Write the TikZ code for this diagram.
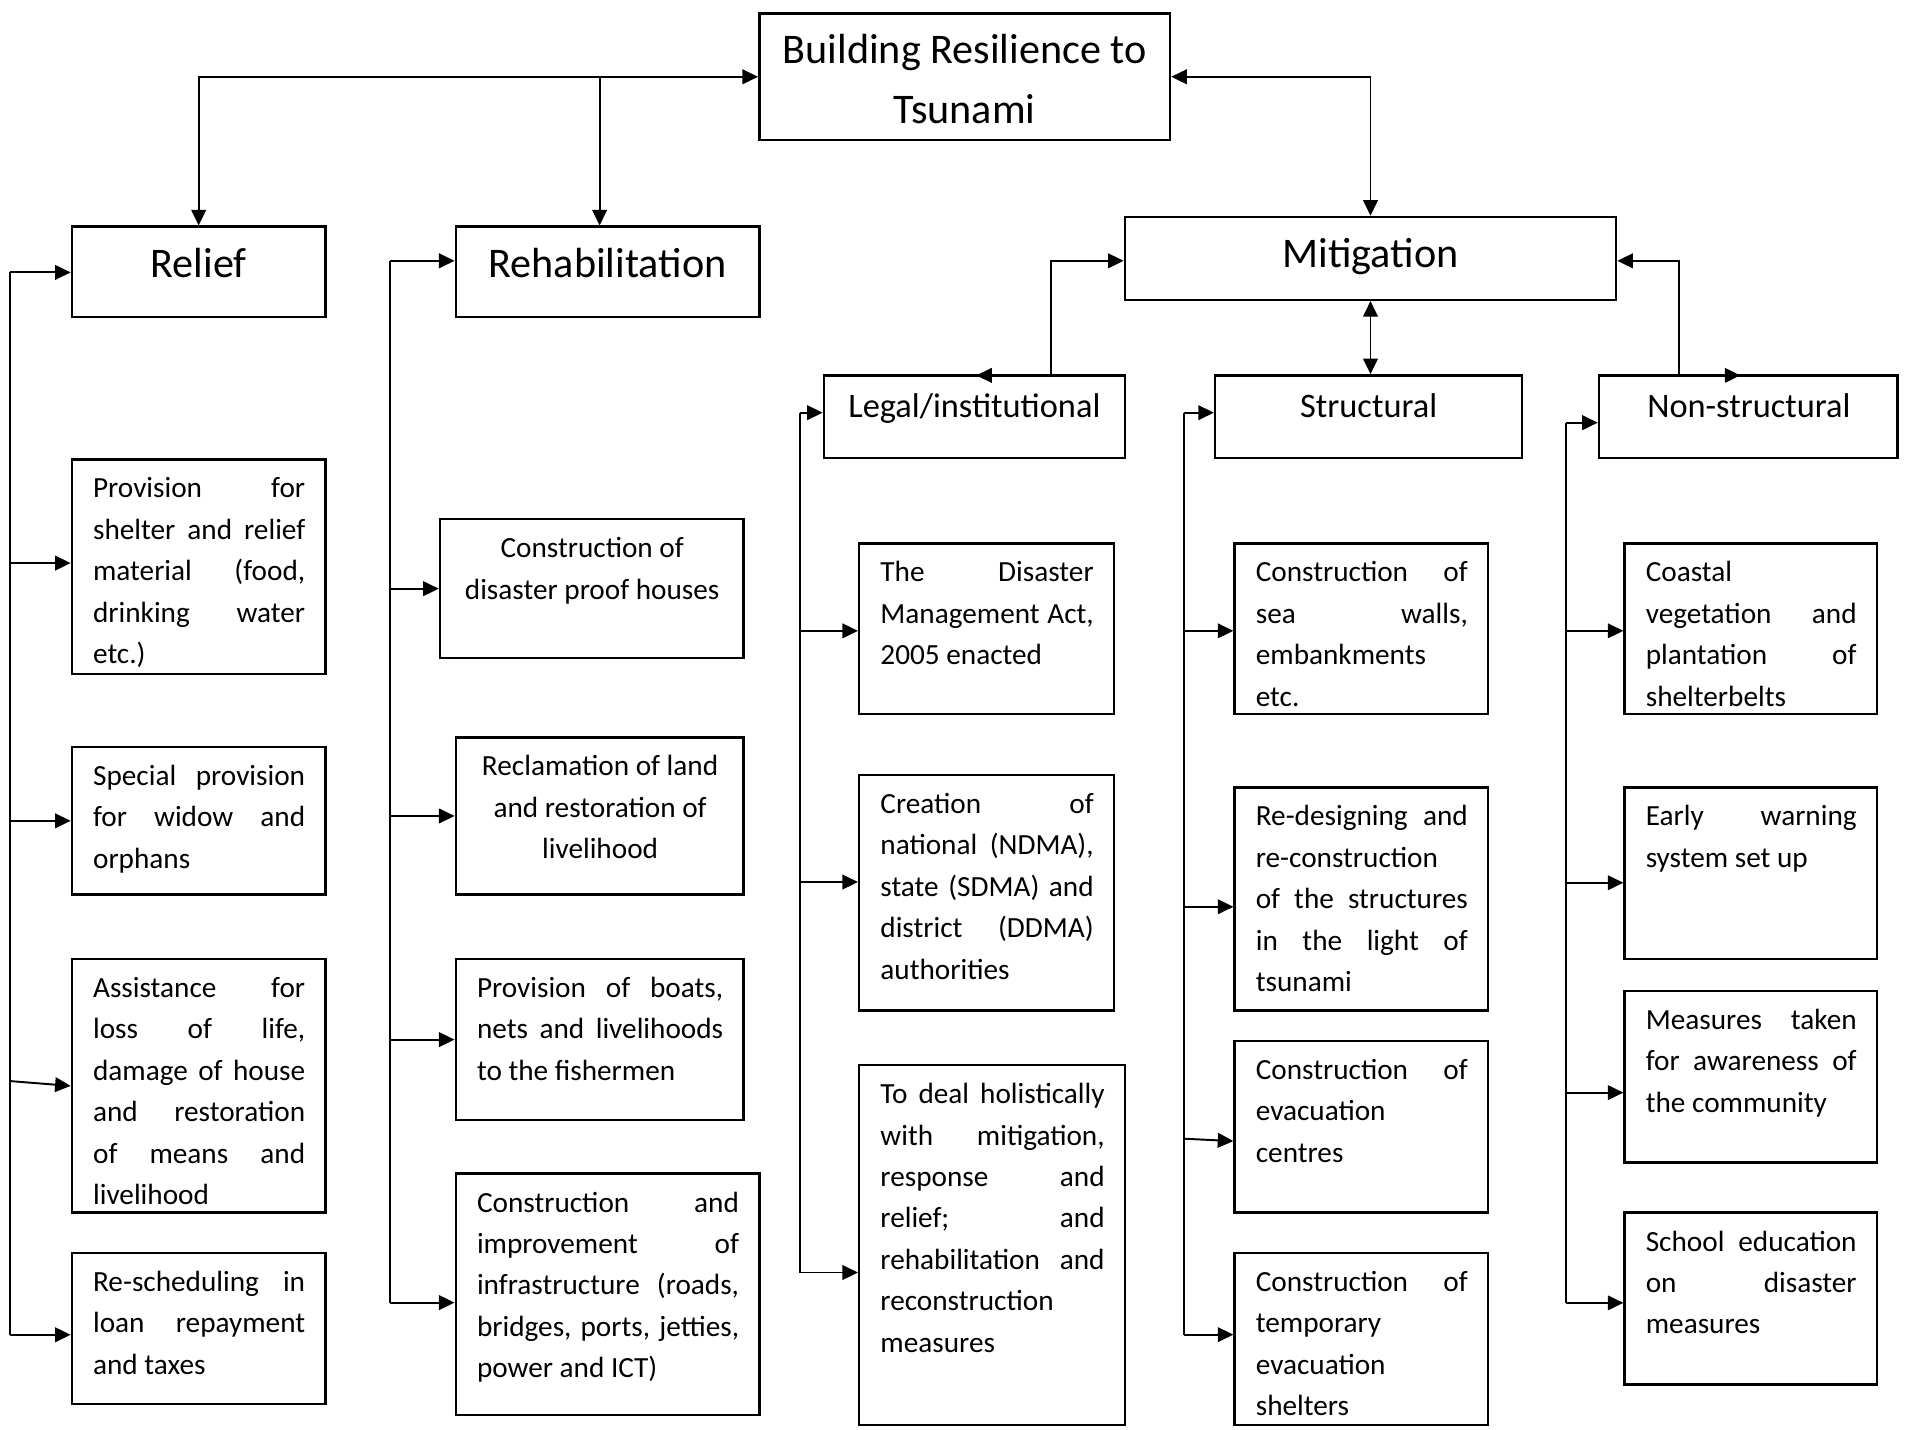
\documentclass[tikz,border=0pt]{standalone}
\usepackage{fontspec}
\setmainfont{Carlito}
\usetikzlibrary{arrows.meta,fit,calc}
\newcommand\jl[1]{\makebox[\linewidth][s]{#1}\\}
\tikzset{
  box/.style={draw, line width=1pt, rectangle, inner sep=0pt},
  conn/.style={line width=0.8pt},
  arr/.style={conn, -{Triangle[length=6.4pt,width=6pt]}},
  darr/.style={conn, {Triangle[length=6.4pt,width=6pt]}-{Triangle[length=6.4pt,width=6pt]}},
  tx/.style={inner sep=0pt, font=\fontsize{12}{17}\selectfont},
  hd/.style={inner sep=0pt, font=\fontsize{17.3}{24.5}\selectfont},
  sh/.style={inner sep=0pt, font=\fontsize{14.1}{17}\selectfont},
}
\newcommand\ibox[6]{%
  \node[box, fit={(#2,#3) (#4,#5)}] (#1) {};
  \pgfmathsetmacro\tw{(#4-#2-34)*0.5}%
  \node[tx, anchor=base west] (#1t) at ({#2+17},{#3+31.5}) {\parbox[t]{\tw pt}{#6}};
}
\begin{document}
\begin{tikzpicture}[x=0.5pt,y=-0.5pt]
\useasboundingbox (0,0) rectangle (1568,1173);
\fill[white] (0,0) rectangle (1568,1173);

% ---- heading boxes
\node[box, fit={(623,11) (960,115)}] (top) {};
\node[hd, anchor=base] (topt) at (791.5,52) {\parbox[t]{160pt}{\centering Building Resilience to\\Tsunami}};
\node[box, fit={(59,186) (267,260)}] (relief) {};
\node[hd, anchor=base] (relieft) at (163,227.5) {Relief};
\node[box, fit={(374,186) (623,260)}] (rehab) {};
\node[hd, anchor=base] (rehabt) at (498.5,227.5) {Rehabilitation};
\node[box, fit={(923,178) (1326,246)}] (mit) {};
\node[hd, anchor=base] (mitt) at (1124.5,219.6) {Mitigation};
\node[box, fit={(676,308) (923,376)}] (legal) {};
\node[sh, anchor=base] (legalt) at (799.5,342.5) {Legal/institutional};
\node[box, fit={(997,308) (1249,376)}] (struc) {};
\node[sh, anchor=base] (struct) at (1123,342.5) {Structural};
\node[box, fit={(1312,308) (1557,376)}] (nons) {};
\node[sh, anchor=base] (nonst) at (1435,342.5) {Non-structural};

% ---- Relief items
\ibox{p1}{59}{377}{267}{553}{\jl{Provision for}\jl{shelter and relief}\jl{material (food,}\jl{drinking water}etc.)}
\ibox{p2}{59}{613}{267}{734}{\jl{Special provision}\jl{for widow and}orphans}
\ibox{p3}{59}{787}{267}{995}{\jl{Assistance for}\jl{loss of life,}\jl{damage of house}\jl{and restoration}\jl{of means and}livelihood}
\ibox{p4}{59}{1028}{267}{1152}{\jl{Re-scheduling in}\jl{loan repayment}and taxes}

% ---- Rehabilitation items
\ibox{h1}{361}{426}{610}{540}{\centering Construction of\\disaster proof houses}
\ibox{h2}{374}{605}{610}{734}{\centering Reclamation of land\\and restoration of\\livelihood}
\ibox{h3}{374}{787}{610}{919}{\jl{Provision of boats,}\jl{nets and livelihoods}to the fishermen}
\ibox{h4}{374}{963}{623}{1161}{\jl{Construction and}\jl{improvement of}\jl{infrastructure (roads,}\jl{bridges, ports, jetties,}power and ICT)}

% ---- Legal items
\ibox{l1}{705}{446}{914}{586}{\jl{The Disaster}\jl{Management Act,}2005 enacted}
\ibox{l2}{705}{636}{914}{829}{\jl{Creation of}\jl{national (NDMA),}\jl{state (SDMA) and}\jl{district (DDMA)}authorities}
\ibox{l3}{705}{874}{923}{1169}{\jl{To deal holistically}\jl{with mitigation,}\jl{response and}\jl{relief; and}\jl{rehabilitation and}reconstruction\\measures}

% ---- Structural items
\ibox{s1}{1013}{446}{1221}{586}{\jl{Construction of}\jl{sea walls,}embankments\\etc.}
\ibox{s2}{1013}{646}{1221}{829}{\jl{Re-designing and}re-construction\\\jl{of the structures}\jl{in the light of}tsunami}
\ibox{s3}{1013}{854}{1221}{995}{\jl{Construction of}evacuation\\centres}
\ibox{s4}{1013}{1028}{1221}{1169}{\jl{Construction of}temporary\\evacuation\\shelters}

% ---- Non-structural items
\ibox{n1}{1333}{446}{1540}{586}{Coastal\\\jl{vegetation and}\jl{plantation of}shelterbelts}
\ibox{n2}{1333}{646}{1540}{787}{\jl{Early warning}system set up}
\ibox{n3}{1333}{813}{1540}{954}{\jl{Measures taken}\jl{for awareness of}the community}
\ibox{n4}{1333}{995}{1540}{1136}{\jl{School education}\jl{on disaster}measures}

% ---- top connectors
\draw[darr] (relief.north) |- (top.west);
\coordinate (rj) at (492,63);
\draw[arr] (rj) -- (rj |- rehab.north);
\draw[darr] (top.east) -| (mit.north);
\draw[darr] (mit.south) -- (mit.south |- struc.north);
\coordinate (lj) at (862,308);
\coordinate (lk) at (801,308);
\draw[arr] (lj) |- ([yshift=-1pt]mit.west);
\draw[arr] (lj) -- (lk);
\coordinate (nj) at (1378,308);
\coordinate (nk) at (1428,308);
\draw[arr] (nj) |- ([yshift=-1pt]mit.east);
\draw[arr] (nj) -- (nk);

% ---- Relief bus
\coordinate (rb1) at (8,223.5);
\draw[arr] (rb1) -- (rb1 -| relief.west);
\draw[arr] ([yshift=1.5pt]rb1 |- p1.west) -- ([yshift=1.5pt]p1.west);
\draw[arr] (rb1 |- p2.west) -- (p2.west);
\draw[arr] ([yshift=2pt]rb1 |- p3.west) -- (p3.west);
\coordinate (rb2) at ([yshift=-2.6pt]rb1 |- p4.west);
\draw[arr] (rb2) -- ([yshift=-2.6pt]p4.west);
\draw[conn] (rb1) -- (rb2);

% ---- Rehabilitation bus
\coordinate (hb1) at (320,214);
\draw[arr] (hb1) -- (hb1 -| rehab.west);
\draw[arr] (hb1 |- h1.west) -- (h1.west);
\draw[arr] (hb1 |- h2.west) -- (h2.west);
\draw[arr] (hb1 |- h3.west) -- (h3.west);
\coordinate (hb2) at ([yshift=-3.4pt]hb1 |- h4.west);
\draw[arr] (hb2) -- ([yshift=-3.4pt]h4.west);
\draw[conn] (hb1) -- (hb2);

% ---- Legal bus
\coordinate (lb1) at (656.5,338.6);
\draw[arr] (lb1) -- (lb1 -| legal.west);
\draw[arr] ([yshift=-0.8pt]lb1 |- l1.west) -- ([yshift=-0.8pt]l1.west);
\draw[arr] ([yshift=4.4pt]lb1 |- l2.west) -- ([yshift=4.4pt]l2.west);
\coordinate (lb2) at ([yshift=-11.3pt]lb1 |- l3.west);
\draw[arr] (lb2) -- ([yshift=-11.3pt]l3.west);
\draw[conn] (lb1) -- (lb2);

% ---- Structural bus
\coordinate (sb1) at (971.4,338.6);
\draw[arr] (sb1) -- (sb1 -| struc.west);
\draw[arr] ([yshift=-0.8pt]sb1 |- s1.west) -- ([yshift=-0.8pt]s1.west);
\draw[arr] ([yshift=-3.25pt]sb1 |- s2.west) -- ([yshift=-3.25pt]s2.west);
\draw[arr] ([yshift=-4.9pt]sb1 |- s3.west) -- ([yshift=-5.9pt]s3.west);
\coordinate (sb2) at ([yshift=1.7pt]sb1 |- s4.west);
\draw[arr] (sb2) -- ([yshift=1.7pt]s4.west);
\draw[conn] (sb1) -- (sb2);

% ---- Non-structural bus
\coordinate (nb1) at (1284.8,346.8);
\draw[arr] (nb1) -- (nb1 -| nons.west);
\draw[arr] ([yshift=-0.8pt]nb1 |- n1.west) -- ([yshift=-0.8pt]n1.west);
\draw[arr] ([yshift=-3.9pt]nb1 |- n2.west) -- ([yshift=-3.9pt]n2.west);
\draw[arr] ([yshift=-6.5pt]nb1 |- n3.west) -- ([yshift=-6.5pt]n3.west);
\coordinate (nb2) at ([yshift=-1.75pt]nb1 |- n4.west);
\draw[arr] (nb2) -- ([yshift=-1.75pt]n4.west);
\draw[conn] (nb1) -- (nb2);
\end{tikzpicture}
\end{document}
